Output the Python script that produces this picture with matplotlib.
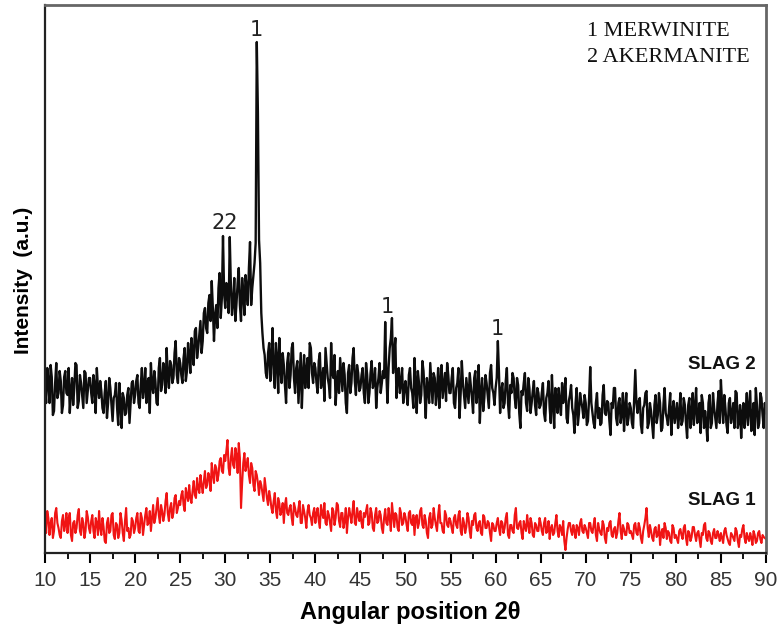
import numpy as np
import matplotlib
matplotlib.use('Agg')
import matplotlib.pyplot as plt
from matplotlib.ticker import MultipleLocator

# 2-theta grid, 0.25 deg steps from 10 to 90, plus the in-between readings
two_theta = np.arange(10, 90.001, 0.25)
two_theta_mid = two_theta[:-1] + 0.125

# intensities (a.u., arbitrary)
slag2 = [
    168, 185, 150, 176, 142, 190, 160, 172, 148, 182, 158, 140, 175, 165, 188, 152, 170, 145, 180, 162,
    175, 150, 168, 185, 155, 162, 140, 172, 150, 165, 132, 158, 145, 170, 125, 155, 140, 165, 150, 172,
    158, 178, 145, 185, 165, 150, 175, 190, 160, 172, 148, 195, 168, 182, 205, 165, 188, 175, 212, 170,
    190, 170, 205, 182, 198, 215, 188, 225, 205, 232, 212, 245, 220, 258, 272, 212, 248, 265, 235, 317,
    245, 262, 316, 238, 275, 250, 285, 232, 260, 278, 248, 311, 265, 290, 511, 313, 240, 205, 180, 200,
    172, 225, 165, 195, 215, 170, 188, 150, 200, 178, 210, 160, 192, 175, 145, 198, 182, 165, 205, 170,
    185, 160, 200, 172, 152, 190, 168, 210, 175, 148, 182, 195, 162, 178, 140, 188, 170, 205, 158, 180,
    165, 185, 150, 178, 160, 192, 170, 145, 175, 160, 182, 231, 150, 205, 235, 200, 155, 185, 170, 150,
    172, 148, 185, 160, 195, 140, 170, 158, 182, 135, 165, 190, 150, 175, 162, 145, 188, 168, 152, 178,
    160, 185, 145, 170, 135, 192, 158, 175, 150, 168, 140, 182, 162, 130, 175, 155, 170, 145, 188, 160,
    165, 212, 140, 170, 150, 185, 135, 160, 175, 145, 168, 125, 158, 180, 142, 165, 150, 172, 138, 160,
    148, 170, 132, 160, 145, 178, 125, 155, 165, 138, 150, 175, 130, 158, 145, 120, 165, 140, 152, 135,
    150, 132, 186, 140, 125, 160, 145, 130, 168, 138, 150, 118, 145, 165, 128, 155, 140, 122, 160, 135,
    145, 125, 183, 140, 155, 120, 148, 162, 130, 142, 115, 158, 138, 150, 125, 165, 135, 145, 118, 152,
    140, 125, 160, 132, 148, 115, 155, 138, 128, 165, 135, 120, 150, 142, 112, 158, 130, 145, 125, 162,
    173, 130, 145, 120, 155, 138, 125, 160, 132, 115, 150, 140, 128, 162, 135, 118, 148, 130, 155, 125,
    140,
]
slag2_mid = [
    150, 172, 188, 138, 170, 155, 182, 140, 176, 160, 185, 162, 148, 190, 145, 178, 158, 182, 150, 175,
    160, 178, 140, 165, 172, 145, 160, 135, 175, 148, 155, 170, 128, 150, 160, 138, 158, 130, 170, 150,
    172, 150, 168, 155, 185, 170, 140, 168, 182, 150, 185, 162, 190, 160, 175, 192, 170, 200, 178, 195,
    178, 195, 172, 210, 180, 200, 222, 195, 218, 200, 240, 225, 250, 232, 245, 238, 225, 280, 255, 260,
    270, 240, 268, 250, 232, 270, 248, 275, 238, 265, 285, 248, 278, 310, 440, 290, 220, 198, 175, 210,
    195, 180, 210, 160, 185, 200, 168, 190, 165, 205, 175, 185, 150, 200, 178, 165, 195, 210, 180, 190,
    170, 192, 165, 185, 205, 175, 155, 180, 198, 170, 160, 178, 190, 150, 180, 160, 195, 172, 188, 162,
    178, 160, 190, 150, 180, 165, 185, 165, 190, 170, 175, 180, 185, 215, 180, 215, 175, 160, 185, 165,
    158, 178, 165, 145, 170, 182, 150, 192, 160, 175, 150, 170, 180, 148, 185, 172, 155, 180, 190, 160,
    175, 150, 165, 185, 160, 170, 145, 162, 180, 155, 175, 150, 188, 160, 142, 178, 158, 180, 165, 148,
    175, 180, 162, 145, 172, 150, 168, 180, 155, 175, 140, 162, 170, 150, 175, 140, 162, 148, 165, 145,
    160, 140, 155, 172, 130, 150, 165, 140, 150, 170, 160, 135, 152, 168, 138, 150, 128, 160, 145, 158,
    128, 155, 150, 130, 150, 135, 128, 158, 140, 152, 132, 150, 165, 135, 150, 130, 160, 145, 128, 150,
    130, 155, 150, 152, 128, 145, 160, 125, 150, 128, 148, 130, 160, 122, 148, 140, 128, 160, 142, 130,
    150, 138, 128, 155, 130, 148, 125, 160, 145, 130, 150, 158, 125, 130, 150, 125, 160, 135, 150, 130,
    150, 158, 128, 150, 130, 150, 162, 125, 148, 140, 125, 160, 145, 122, 150, 165, 125, 160, 138, 150,
]

slag1 = [
    30, 42, 18, 35, 22, 45, 25, 15, 38, 28, 20, 40, 12, 32, 25, 44, 18, 30, 22, 36,
    20, 38, 15, 30, 42, 18, 26, 10, 35, 22, 40, 14, 28, 20, 33, 12, 45, 25, 18, 32,
    25, 40, 20, 35, 28, 45, 30, 22, 48, 35, 55, 30, 42, 38, 60, 32, 50, 40, 58, 45,
    48, 62, 42, 58, 68, 50, 72, 55, 65, 78, 60, 82, 68, 75, 90, 70, 85, 78, 95, 80,
    92, 113, 78, 105, 85, 98, 110, 45, 90, 82, 95, 70, 85, 62, 78, 58, 68, 52, 65, 48,
    55, 40, 60, 35, 50, 42, 30, 55, 38, 48, 28, 45, 36, 52, 30, 42, 25, 48, 35, 40,
    30, 45, 25, 40, 50, 28, 38, 22, 42, 35, 48, 26, 40, 32, 20, 45, 30, 52, 28, 38,
    42, 25, 36, 48, 30, 40, 22, 45, 32, 38, 20, 44, 28, 35, 50, 26, 38, 22, 40, 30,
    36, 22, 42, 28, 18, 38, 30, 45, 25, 32, 15, 40, 28, 35, 22, 48, 30, 20, 38, 26,
    32, 20, 38, 25, 42, 18, 30, 26, 35, 15, 28, 40, 22, 32, 18, 36, 25, 30, 12, 28,
    22, 35, 18, 30, 25, 40, 15, 28, 20, 45, 24, 32, 14, 26, 38, 20, 30, 16, 28, 22,
    30, 18, 35, 22, 14, 28, 20, 38, 16, 25, 32, 3, 24, 30, 18, 22, 28, 18, 34, 20,
    25, 15, 30, 20, 35, 12, 24, 18, 28, 10, 22, 32, 16, 26, 20, 40, 14, 24, 18, 28,
    22, 14, 30, 18, 25, 10, 28, 45, 16, 22, 12, 26, 18, 8, 24, 30, 14, 20, 10, 25,
    18, 10, 24, 14, 28, 8, 20, 16, 26, 12, 22, 6, 18, 30, 12, 20, 9, 24, 15, 18,
    20, 10, 25, 14, 8, 18, 12, 22, 6, 16, 28, 10, 15, 20, 8, 18, 12, 22, 10, 16,
    14,
]
slag1_mid = [
    20, 35, 30, 15, 40, 30, 18, 32, 22, 40, 35, 18, 30, 20, 38, 22, 35, 15, 42, 25,
    32, 22, 35, 18, 25, 35, 12, 30, 20, 38, 18, 30, 15, 40, 20, 32, 22, 15, 35, 20,
    35, 22, 40, 18, 38, 28, 42, 35, 30, 45, 38, 48, 32, 52, 40, 45, 35, 55, 40, 52,
    58, 48, 65, 52, 55, 62, 58, 75, 60, 68, 72, 65, 80, 62, 78, 88, 72, 92, 82, 98,
    102, 85, 95, 88, 105, 80, 95, 70, 100, 88, 78, 90, 68, 82, 70, 72, 60, 75, 55, 62,
    45, 52, 42, 55, 38, 50, 48, 40, 45, 35, 50, 38, 45, 30, 48, 35, 42, 38, 28, 45,
    40, 32, 48, 35, 30, 42, 30, 45, 28, 50, 32, 40, 25, 45, 35, 38, 42, 30, 45, 32,
    30, 40, 42, 28, 45, 25, 38, 30, 42, 25, 35, 30, 45, 22, 38, 40, 25, 45, 28, 40,
    28, 40, 30, 38, 35, 25, 42, 28, 38, 20, 35, 25, 45, 28, 38, 30, 22, 42, 28, 35,
    25, 35, 28, 38, 22, 35, 20, 40, 22, 32, 38, 25, 30, 20, 38, 25, 32, 20, 30, 22,
    30, 25, 32, 20, 35, 18, 28, 22, 38, 25, 30, 20, 32, 22, 28, 35, 18, 30, 22, 35,
    22, 30, 20, 32, 25, 18, 30, 22, 28, 18, 12, 15, 30, 22, 28, 15, 25, 30, 22, 28,
    20, 30, 22, 28, 18, 30, 20, 32, 15, 25, 30, 18, 24, 15, 32, 22, 28, 18, 30, 20,
    18, 28, 20, 30, 15, 22, 35, 25, 28, 15, 24, 16, 28, 20, 15, 25, 22, 12, 28, 15,
    14, 22, 18, 25, 15, 22, 12, 26, 18, 20, 14, 20, 28, 15, 22, 12, 20, 15, 22, 12,
    15, 22, 18, 10, 20, 15, 25, 12, 18, 24, 15, 20, 12, 15, 22, 10, 20, 14, 18, 15,
]

# phase labels on the peaks: (text, 2theta, height)
peak_labels = [("1", 33.5, 523), ("22", 30.0, 330), ("1", 47.95, 246), ("1", 60.2, 224)]


def interleave(a, b):
    out = np.empty(len(a) + len(b))
    out[0::2] = a
    out[1::2] = b
    return out


x_all = interleave(two_theta, two_theta_mid)
y2 = interleave(slag2, slag2_mid)
y1 = interleave(slag1, slag1_mid)

fig = plt.figure(figsize=(7.8, 6.31), dpi=100)
ax = fig.add_axes([0.0577, 0.1236, 0.9243, 0.8684])

ax.plot(x_all, y2, color='#0d0d0d', linewidth=1.7)
ax.plot(x_all, y1, color='#f01414', linewidth=1.5)

ax.set_xlim(10, 90)
ax.set_ylim(0, 548)
ax.xaxis.set_major_locator(MultipleLocator(5))
ax.xaxis.set_minor_locator(MultipleLocator(2.5))
ax.set_yticks([])
ax.tick_params(axis='x', which='major', direction='out', length=7, width=1.5,
               pad=6, labelsize=15, labelcolor='#333333')
ax.tick_params(axis='x', which='minor', direction='out', length=4, width=1.3)
for lab in ax.get_xticklabels():
    lab.set_family('Liberation Sans')

for side in ['left', 'bottom']:
    ax.spines[side].set_linewidth(1.6)
    ax.spines[side].set_color('#222222')
for side in ['top', 'right']:
    ax.spines[side].set_linewidth(2)
    ax.spines[side].set_color('#666666')

for txt, xv, yv in peak_labels:
    ax.text(xv, yv, txt, ha='center', va='center', fontsize=15, family='DejaVu Sans',
            color='#222222')

ax.text(70.15, 521.5, "1 MERWINITE", ha='left', va='center', fontsize=16,
        family='Liberation Serif', color='#111111')
ax.text(70.15, 495.5, "2 AKERMANITE", ha='left', va='center', fontsize=16,
        family='Liberation Serif', color='#111111')

ax.text(88.9, 189, "SLAG 2", ha='right', va='center', fontsize=13.5, fontweight='bold',
        family='Liberation Sans', color='#111111')
ax.text(88.9, 53, "SLAG 1", ha='right', va='center', fontsize=13.5, fontweight='bold',
        family='Liberation Sans', color='#111111')

fig.text(0.526, 0.030, "Angular position 2θ", ha='center', va='center', fontsize=17,
         fontweight='bold', family='Liberation Sans')
fig.text(0.030, 0.556, "Intensity  (a.u.)", ha='center', va='center', rotation=90,
         fontsize=15, fontweight='bold', family='Liberation Sans')

fig.savefig('out.png', dpi=100)
